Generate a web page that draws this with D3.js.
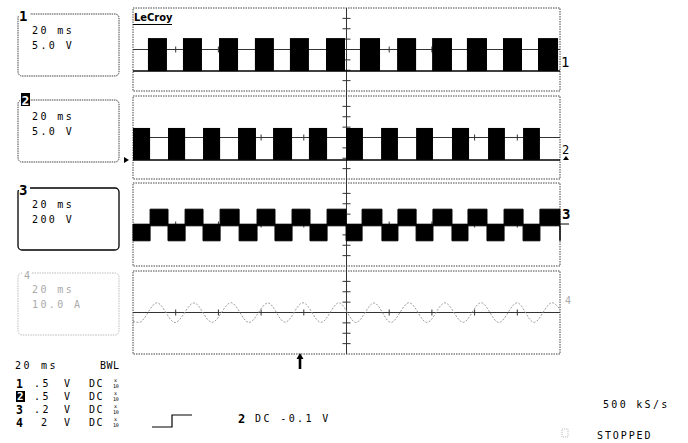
<!DOCTYPE html>
<html><head><meta charset="utf-8">
<script src="https://cdn.jsdelivr.net/npm/d3@7"></script>
<style>body{margin:0;background:#fff}svg text{font-family:"DejaVu Sans Mono",monospace}</style>
</head><body>
<svg id="c" width="688" height="443"></svg>
<script>
// ---- data (time in ms, 20 ms/div, 10 divisions) ----
const timeDomain = [0, 200];
const timeTicks = [0, 20, 40, 60, 80, 100, 120, 140, 160, 180, 200];
const channelNames = ["1", "2", "3", "4"];
const channelTimebase = ["20 ms", "20 ms", "20 ms", "20 ms"];
const channelScale = ["5.0 V", "5.0 V", "200 V", "10.0 A"];
const channelVdiv = [5, 5, 200, 10];

// Ch1 gate pulses (V)
const ch1PulseStart = [7.0, 23.4, 40.3, 57.1, 73.5, 90.4, 106.3, 123.7, 140.1, 156.4, 173.3, 189.7];
const ch1PulseEnd   = [15.9, 32.3, 49.2, 66.0, 82.4, 99.3, 115.7, 132.6, 149.4, 165.8, 182.2, 199.1];
const ch1Low = -10.4, ch1High = 5.5;

// Ch2 gate pulses (V)
const ch2PulseStart = [0.0, 16.4, 32.8, 49.2, 65.6, 82.4, 99.8, 116.2, 132.6, 149.4, 166.3, 182.7];
const ch2PulseEnd   = [8.0, 24.4, 40.8, 57.6, 74.5, 90.9, 107.7, 124.1, 140.5, 157.4, 174.2, 190.6];
const ch2Low = -10.8, ch2High = 4.6;

// Ch3 output voltage (V): high intervals, else low, with ripple band (full width)
const ch3HighStart = [8.0, 24.4, 40.8, 58.1, 74.5, 90.9, 107.3, 124.1, 140.5, 156.9, 173.8, 190.6];
const ch3HighEnd   = [16.4, 32.8, 49.7, 66.5, 82.9, 99.8, 116.6, 132.6, 149.4, 165.8, 182.7, 200];
const ch3High = 135, ch3Low = -154, ch3Ripple = 320;

// Ch4 current (A): extrema
const ch4T = [0, 2.8, 11.2, 19.7, 28.6, 37.0, 45.9, 54.3, 63.2, 71.2, 79.6, 88.1, 96.5, 104.4, 112.9, 120.8, 129.3, 137.7, 146.1, 154.6, 163.0, 171.4, 179.9, 187.8, 196.3, 200];
const ch4A = [-8.5, -9.5, 9.3, -9.6, 9.2, -9.5, 9.4, -9.6, 9.2, -9.4, 9.4, -9.5, 9.3, -9.6, 9.2, -9.5, 9.4, -9.6, 9.3, -9.5, 9.4, -9.6, 9.3, -9.5, 9.4, 3];

const bottomRows = [
  {n: "1", v: ".5", u: "V", c: "DC"},
  {n: "2", v: ".5", u: "V", c: "DC"},
  {n: "3", v: ".2", u: "V", c: "DC"},
  {n: "4", v: "2", u: "V", c: "DC"}
];

// ---- layout ----
const svg = d3.select("#c");
const x = d3.scaleLinear().domain(timeDomain).range([133, 560]);
const panelTop = [8, 96, 183, 271];
const panelH = 83;
const ys = channelVdiv.map((vd, i) => d3.scaleLinear().domain([-4 * vd, 4 * vd]).range([panelTop[i] + panelH, panelTop[i]]));

// panels: borders, center lines, ticks
panelTop.forEach((t, i) => {
  const g = svg.append("g");
  g.append("rect").attr("x", x(0)).attr("y", t).attr("width", x(200) - x(0)).attr("height", panelH)
    .attr("fill", "none").attr("stroke", "#444").attr("stroke-width", 1).attr("stroke-dasharray", "1.5,1");
  const yc = ys[i](0);
  g.append("line").attr("x1", x(0)).attr("x2", x(200)).attr("y1", yc).attr("y2", yc)
    .attr("stroke", "#333").attr("stroke-width", 1);
  g.selectAll(".ht").data(timeTicks.slice(1, -1)).join("line")
    .attr("x1", d => x(d)).attr("x2", d => x(d)).attr("y1", yc - 3).attr("y2", yc + 3)
    .attr("stroke", "#333");
  const vd = channelVdiv[i];
  g.selectAll(".vt").data(d3.range(-3, 4).filter(k => k !== 0).map(k => k * vd)).join("line")
    .attr("x1", x(100) - 4).attr("x2", x(100) + 4).attr("y1", d => ys[i](d)).attr("y2", d => ys[i](d))
    .attr("stroke", "#333");
});
svg.append("line").attr("x1", x(100)).attr("x2", x(100)).attr("y1", panelTop[0]).attr("y2", panelTop[3] + panelH)
  .attr("stroke", "#333").attr("stroke-width", 1);

// pulse channels: solid filled pulses over a baseline
function drawPulses(i, starts, ends, lo, hi) {
  const y = ys[i];
  svg.append("line").attr("x1", x(0)).attr("x2", x(200)).attr("y1", y(lo)).attr("y2", y(lo))
    .attr("stroke", "#000").attr("stroke-width", 1.5);
  svg.selectAll(null).data(starts.map((s, k) => ({s, e: ends[k]}))).join("rect")
    .attr("x", d => x(d.s)).attr("width", d => x(d.e) - x(d.s))
    .attr("y", y(hi)).attr("height", y(lo) - y(hi))
    .attr("fill", "#000");
}
drawPulses(0, ch1PulseStart, ch1PulseEnd, ch1Low, ch1High);
drawPulses(1, ch2PulseStart, ch2PulseEnd, ch2Low, ch2High);

// ch3 band
const ch3Data = [{t: 0, v: ch3Low}];
ch3HighStart.forEach((s, k) => { ch3Data.push({t: s, v: ch3High}); ch3Data.push({t: ch3HighEnd[k], v: ch3Low}); });
svg.append("path").datum(ch3Data.filter(d => d.t <= 200))
  .attr("d", d3.area().x(d => x(d.t)).y0(d => ys[2](d.v - ch3Ripple / 2)).y1(d => ys[2](d.v + ch3Ripple / 2)).curve(d3.curveStepAfter))
  .attr("fill", "#000").attr("stroke", "#000").attr("stroke-width", 1);

// ch4 sine
svg.append("path").datum(ch4T.map((t, k) => ({t, v: ch4A[k]})))
  .attr("d", d3.line().x(d => x(d.t)).y(d => ys[3](d.v)).curve(d3.curveMonotoneX))
  .attr("fill", "none").attr("stroke", "#9a9a9a").attr("stroke-width", 1).attr("stroke-dasharray", "2,1.5");

// LeCroy label
svg.append("text").attr("x", 134).attr("y", 21).text("LeCroy")
  .style("font-family", "DejaVu Sans Condensed, DejaVu Sans").style("font-weight", "bold").style("font-size", "11px");
svg.append("line").attr("x1", 133).attr("x2", 172).attr("y1", 24.5).attr("y2", 24.5).attr("stroke", "#000");

// right markers
svg.append("text").attr("x", 561).attr("y", 67).text("1").style("font-size", "14px");
svg.append("text").attr("x", 562).attr("y", 154).text("2").style("font-size", "12px");
svg.append("path").attr("d", "M563,160 l3,-4 l3,4 z").attr("fill", "#000");
svg.append("text").attr("x", 562).attr("y", 219).text("3").style("font-size", "14px").style("font-weight", "bold");
svg.append("line").attr("x1", 560).attr("x2", 569).attr("y1", 224).attr("y2", 224).attr("stroke", "#000");
svg.append("text").attr("x", 565).attr("y", 304).text("4").style("font-size", "10px").attr("fill", "#aaa");
// ground arrow ch2
svg.append("path").attr("d", "M124,157 l5,3 l-5,3 z").attr("fill", "#000");

// left boxes
const boxTop = [14, 100, 188, 273];
const boxStyle = [
  {stroke: "#444", dash: "1.5,0.8", w: 1, col: "#000"},
  {stroke: "#444", dash: "1.5,0.8", w: 1, col: "#000"},
  {stroke: "#000", dash: null, w: 1.3, col: "#000"},
  {stroke: "#bbb", dash: "1.5,1", w: 1, col: "#aaa"}
];
boxTop.forEach((bt, i) => {
  const st = boxStyle[i];
  svg.append("rect").attr("x", 18).attr("y", bt).attr("width", 101).attr("height", 62).attr("rx", 4)
    .attr("fill", "none").attr("stroke", st.stroke).attr("stroke-width", st.w).attr("stroke-dasharray", st.dash);
  svg.append("text").attr("x", 32).attr("y", bt + 20).text(channelTimebase[i])
    .attr("fill", st.col).style("font-size", "10px").style("letter-spacing", "2.4px");
  svg.append("text").attr("x", 32).attr("y", bt + 35).text(channelScale[i])
    .attr("fill", st.col).style("font-size", "10px").style("letter-spacing", "2.4px");
});
// box labels
svg.append("rect").attr("x", 18).attr("y", 10).attr("width", 12).attr("height", 6).attr("fill", "#fff");
svg.append("text").attr("x", 19).attr("y", 21).text(channelNames[0]).style("font-size", "14px").style("font-weight", "bold");
svg.append("rect").attr("x", 21).attr("y", 93).attr("width", 9).attr("height", 13).attr("fill", "#000");
svg.append("text").attr("x", 21.5).attr("y", 104.5).text(channelNames[1]).attr("fill", "#fff").style("font-size", "13px").style("font-weight", "bold");
svg.append("rect").attr("x", 18).attr("y", 184).attr("width", 12).attr("height", 6).attr("fill", "#fff");
svg.append("text").attr("x", 19).attr("y", 195).text(channelNames[2]).style("font-size", "14px").style("font-weight", "bold");
svg.append("rect").attr("x", 22).attr("y", 268).attr("width", 10).attr("height", 8).attr("fill", "#fff");
svg.append("text").attr("x", 24).attr("y", 279).text(channelNames[3]).attr("fill", "#aaa").style("font-size", "10px");

// trigger arrow
svg.append("path").attr("d", "M300,353 l-3.5,6 h2.2 v10 h2.6 v-10 h2.2 z").attr("fill", "#000");

// bottom info
const ft = (s, xx, yy, sz, extra) => {
  const t = svg.append("text").attr("x", xx).attr("y", yy).text(s).style("font-size", (sz || 10) + "px").style("letter-spacing", "2.4px");
  if (extra) extra(t);
  return t;
};
ft("20", 15, 369); ft("ms", 41, 369); ft("BWL", 100, 369, 10, t => t.style("letter-spacing", "0.5px"));
const rowY = [388, 401, 414, 427];
bottomRows.forEach((r, k) => {
  const yy = rowY[k];
  if (k === 1) {
    svg.append("rect").attr("x", 16).attr("y", yy - 10).attr("width", 9).attr("height", 11).attr("fill", "#000");
    svg.append("text").attr("x", 17).attr("y", yy - 1).text(r.n).attr("fill", "#fff").style("font-size", "11px").style("font-weight", "bold");
  } else {
    svg.append("text").attr("x", 16).attr("y", yy).text(r.n).style("font-size", "11.5px").style("font-weight", "bold");
  }
  ft(r.v, r.v.length === 1 ? 41 : 34, yy - 1);
  ft(r.u, 64, yy - 1);
  ft(r.c, 89, yy - 1, 10, t => t.style("letter-spacing", "1.5px"));
  svg.append("text").attr("x", 114).attr("y", yy - 6).text("x").style("font-size", "5px");
  svg.append("text").attr("x", 113).attr("y", yy - 0.5).text("10").style("font-size", "5px").style("letter-spacing", "-0.3px");
});
svg.append("path").attr("d", "M152,427 H172 V415 H192").attr("fill", "none").attr("stroke", "#000").attr("stroke-width", 1.2);
svg.append("text").attr("x", 238).attr("y", 423).text("2").style("font-size", "12px").style("font-weight", "bold");
ft("DC -0.1 V", 255, 422);
ft("500 kS/s", 603, 408, 10, t => t.style("letter-spacing", "2.3px"));
ft("STOPPED", 597, 439, 10, t => t.style("letter-spacing", "1.9px"));
svg.append("rect").attr("x", 562).attr("y", 429).attr("width", 6).attr("height", 8).attr("fill", "none")
  .attr("stroke", "#bbb").attr("stroke-dasharray", "1,1");
</script>
</body></html>
